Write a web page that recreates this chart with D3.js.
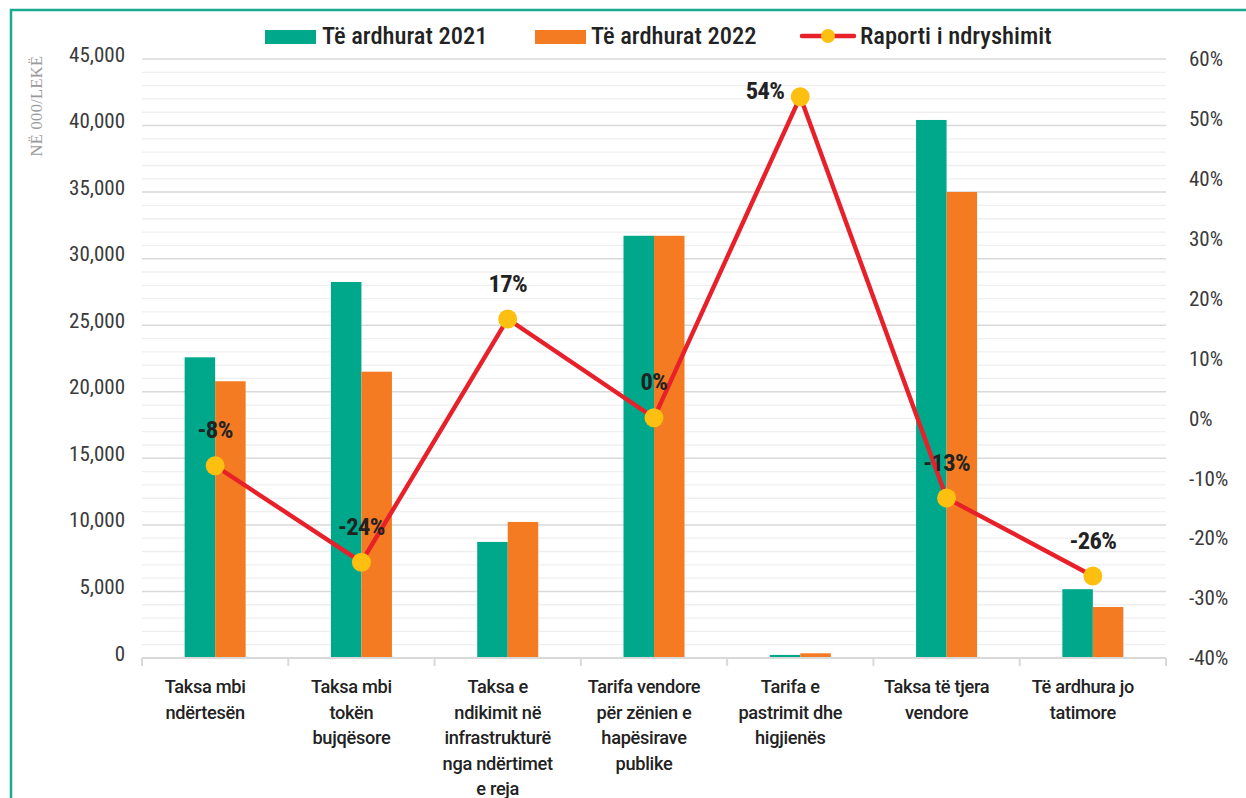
<!DOCTYPE html>
<html><head><meta charset="utf-8">
<script src="https://cdn.jsdelivr.net/npm/d3@7"></script>
<style>
html,body{margin:0;padding:0;background:#fff;}
svg{display:block;}
.cf{font-family:"Roboto Condensed","Liberation Sans Narrow","Arial Narrow",Roboto,sans-serif;}
.rf{font-family:Roboto,"Noto Sans",sans-serif;}
</style></head>
<body>
<svg id="c" width="1246" height="798"></svg>
<script>
const categories = [
  ["Taksa mbi","ndërtesën"],
  ["Taksa mbi","tokën","bujqësore"],
  ["Taksa e","ndikimit në","infrastrukturë","nga ndërtimet","e reja"],
  ["Tarifa vendore","për zënien e","hapësirave","publike"],
  ["Tarifa e","pastrimit dhe","higjienës"],
  ["Taksa të tjera","vendore"],
  ["Të ardhura jo","tatimore"]
];
const revenue2021 = [22590, 28250, 8720, 31720, 230, 40420, 5170];
const revenue2022 = [20790, 21510, 10220, 31720, 355, 35010, 3830];
const changeRatio = [-7.9, -24.0, 16.6, 0.1, 53.7, -13.3, -26.3];
const seriesNames = ["Të ardhurat 2021", "Të ardhurat 2022", "Raporti i ndryshimit"];
const leftTicks = [0,5000,10000,15000,20000,25000,30000,35000,40000,45000];
const rightTicks = [-40,-30,-20,-10,0,10,20,30,40,50,60];
const yAxisTitle = "NË 000/LEKË";

const C_TEAL = "#00A88B", C_ORANGE = "#F47B22", C_RED = "#E8202A", C_YEL = "#FDC010";
const svg = d3.select("#c");
const m = {l:142, r:1166, t:59, b:658};

// frame
svg.append("path").attr("d", `M11,${798+5} L11,10 L${1246+5},10`)
  .attr("fill","none").attr("stroke","#1BAA90").attr("stroke-width",2.5);

const idx = d3.range(categories.length);
const x0 = d3.scaleBand().domain(idx).range([m.l, m.r]).padding(0);
const x1 = d3.scaleBand().domain([0,1]).range([0, 61]);
const y = d3.scaleLinear().domain([0,45000]).range([m.b, m.t]);
const y2 = d3.scaleLinear().domain([-40,60]).range([m.b, m.t]);

// grid
const g = svg.append("g");
g.selectAll("line.minor").data(d3.range(1000,45001,1000).filter(v=>v%5000!==0)).join("line")
  .attr("x1",m.l).attr("x2",m.r).attr("y1",d=>y(d)).attr("y2",d=>y(d))
  .attr("stroke","#efefef").attr("stroke-width",1.3);
g.selectAll("line.major").data(leftTicks.filter(v=>v>0)).join("line")
  .attr("x1",m.l).attr("x2",m.r).attr("y1",d=>y(d)).attr("y2",d=>y(d))
  .attr("stroke","#d9d9d9").attr("stroke-width",1.5);

// left axis labels
const yl = d3.axisLeft(y).tickValues(leftTicks).tickFormat(d3.format(",")).tickSize(0).tickPadding(0);
const ya = svg.append("g").attr("transform",`translate(${m.l-17},0)`).call(yl);
ya.select(".domain").remove();
ya.selectAll("text").attr("class","cf").attr("font-size",21).attr("fill","#3a3a3a").attr("dy","0.1em");

// right axis labels
const yr = d3.axisRight(y2).tickValues(rightTicks).tickFormat(d=>d+"%").tickSize(0).tickPadding(0);
const yra = svg.append("g").attr("transform",`translate(${m.r+23},0)`).call(yr);
yra.select(".domain").remove();
yra.selectAll("text").attr("class","cf").attr("font-size",21).attr("fill","#3a3a3a").attr("dy","0.32em");

// y title
svg.append("text").attr("transform","translate(42,106) rotate(-90)").attr("text-anchor","middle")
  .attr("font-family","'Liberation Serif','DejaVu Serif',serif").attr("font-size",16.5).attr("fill","#9a9a9a")
  .attr("letter-spacing",0.3)
  .text(yAxisTitle);

// bars
const groups = svg.append("g").selectAll("g").data(idx).join("g")
  .attr("transform", i => `translate(${x0(i)+x0.bandwidth()/2-30.5},0)`);
groups.append("rect").attr("x",x1(0)).attr("width",x1.bandwidth())
  .attr("y",i=>y(revenue2021[i])).attr("height",i=>y(0)-y(revenue2021[i])).attr("fill",C_TEAL);
groups.append("rect").attr("x",x1(1)).attr("width",x1.bandwidth())
  .attr("y",i=>y(revenue2022[i])).attr("height",i=>y(0)-y(revenue2022[i])).attr("fill",C_ORANGE);

// x axis
const xa = d3.axisBottom(x0).tickSize(0).tickFormat("");
const xag = svg.append("g").attr("transform",`translate(0,${m.b})`).call(xa);
xag.select(".domain").attr("stroke","#d9d9d9").attr("stroke-width",2).attr("d",`M${m.l},0H${m.r}`);
xag.selectAll(".tick").remove();
svg.append("g").selectAll("line").data(d3.range(categories.length+1)).join("line")
  .attr("x1",i=>m.l+i*x0.step()).attr("x2",i=>m.l+i*x0.step())
  .attr("y1",m.b).attr("y2",m.b+8).attr("stroke","#d9d9d9").attr("stroke-width",2);

// category labels (slightly left of the band centre, as in the source)
const lx = i => x0(i)+x0.bandwidth()/2 - 10;
const cl = svg.append("g").selectAll("text").data(idx).join("text").attr("class","rf")
  .attr("x",lx).attr("y",693).attr("text-anchor","middle")
  .attr("font-size",18.2).attr("font-weight",500).attr("fill","#222").attr("letter-spacing",-0.3);
cl.selectAll("tspan").data(i=>categories[i].map(t=>({t, i}))).join("tspan")
  .attr("x",d=>lx(d.i)).attr("dy",(d,k)=>k===0?0:25.5).text(d=>d.t);

// line
const cx = i => x0(i)+x0.bandwidth()/2;
svg.append("path").datum(idx).attr("fill","none").attr("stroke",C_RED).attr("stroke-width",4.4)
  .attr("stroke-linejoin","miter")
  .attr("d", d3.line().x(cx).y(i=>y2(changeRatio[i])));
svg.append("g").selectAll("circle").data(idx).join("circle")
  .attr("cx",cx).attr("cy",i=>y2(changeRatio[i])).attr("r",9.5).attr("fill",C_YEL);

// data labels
svg.append("g").selectAll("text").data(idx).join("text").attr("class","cf")
  .attr("x",i=> i===4 ? cx(i)-16 : cx(i))
  .attr("y",i=> i===4 ? y2(changeRatio[i])-6 : y2(changeRatio[i])-36)
  .attr("dy","0.35em")
  .attr("text-anchor",i=> i===4 ? "end" : "middle")
  .attr("font-size",24.5).attr("font-weight",700).attr("fill","#222").attr("letter-spacing",-0.6)
  .text(i=>Math.round(changeRatio[i])+"%");

// legend
const lg = svg.append("g");
lg.append("rect").attr("x",265).attr("y",30).attr("width",51).attr("height",14).attr("fill",C_TEAL);
lg.append("text").attr("class","cf").attr("x",322).attr("y",35).attr("dy","0.36em").attr("font-size",24.5).attr("font-weight",500).attr("fill","#222").text(seriesNames[0]);
lg.append("rect").attr("x",535).attr("y",30).attr("width",51).attr("height",14).attr("fill",C_ORANGE);
lg.append("text").attr("class","cf").attr("x",591).attr("y",35).attr("dy","0.36em").attr("font-size",24.5).attr("font-weight",500).attr("fill","#222").text(seriesNames[1]);
lg.append("line").attr("x1",802).attr("x2",854).attr("y1",36).attr("y2",36).attr("stroke",C_RED).attr("stroke-width",4.5).attr("stroke-linecap","round");
lg.append("circle").attr("cx",828).attr("cy",36).attr("r",7).attr("fill",C_YEL);
lg.append("text").attr("class","cf").attr("x",860).attr("y",35).attr("dy","0.36em").attr("font-size",24.5).attr("font-weight",500).attr("fill","#222").text(seriesNames[2]);
</script>
</body></html>
